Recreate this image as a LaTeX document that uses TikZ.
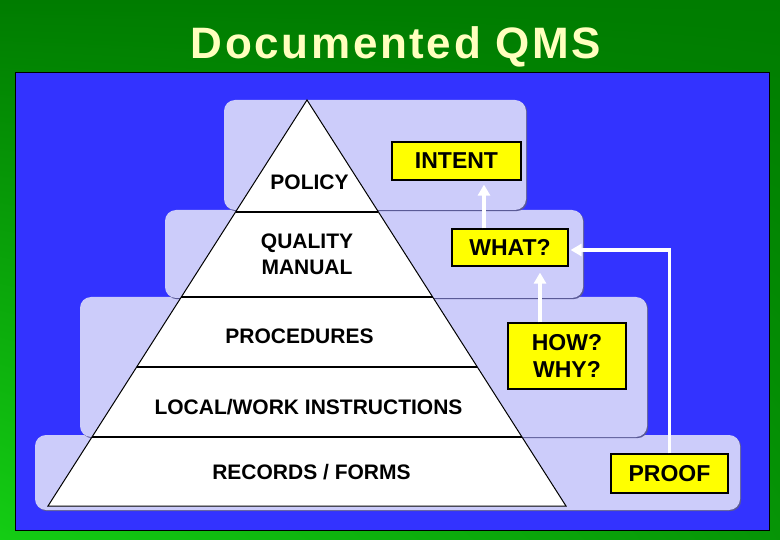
\documentclass[tikz,border=0pt]{standalone}
\usepackage{fontspec}
\setmainfont{Liberation Sans}
\usetikzlibrary{positioning,arrows.meta,calc,shadings}
\definecolor{bgdark}{RGB}{0,124,0}
\definecolor{bgbright}{RGB}{20,205,20}
\definecolor{slide}{RGB}{51,51,255}
\definecolor{tierfill}{RGB}{204,204,250}
\definecolor{tiershade}{RGB}{90,90,150}
\definecolor{tagfill}{RGB}{255,255,0}
\definecolor{titlecol}{RGB}{255,255,190}

\begin{document}
\begin{tikzpicture}[x=1pt,y=-1pt,>=Latex,
  tier/.style={fill=tierfill,rounded corners=11pt},
  tiershadow/.style={fill=tiershade,rounded corners=11pt},
  lbl/.style={font=\fontsize{21}{26}\selectfont\bfseries,align=center},
  tag/.style={draw=black,line width=1.2pt,fill=tagfill,inner sep=0pt,
    font=\fontsize{23}{27}\selectfont\bfseries,align=center},
  flow/.style={white,line width=3.5pt,-{Triangle[length=11pt,width=12pt]},shorten >=4pt}]
% ---- slide background and title ----
\shade[upper left=bgdark,upper right=bgdark,lower left=bgbright,lower right=bgdark!70!bgbright]
  (0,0) rectangle (780,540);
\node[font=\fontsize{44}{50}\selectfont\bfseries\addfontfeature{LetterSpace=6},
  text=titlecol,anchor=base] (title) at (396,59) {Documented QMS};
\draw[fill=slide,line width=0.8pt] (15,72) rectangle (769,530);
% ---- stepped tiers (bottom first) ----
\foreach \xa/\ya/\xb/\yb in {35/435/740/510, 80/297/647/437, 165/210/583/298, 224/100/526/210} {
  \fill[tiershadow] (\xa+1.2,\ya+1.2) rectangle (\xb+1.2,\yb+1.2);
  \fill[tier] (\xa,\ya) rectangle (\xb,\yb);
}
% ---- pyramid ----
\coordinate (apex) at (307,100);
\coordinate (baseL) at (48,506);
\coordinate (baseR) at (566,506);
\draw[fill=white,line width=1pt] (apex) -- (baseL) -- (baseR) -- cycle;
\foreach \t in {0.276,0.485,0.658,0.830}
  \draw[line width=2.2pt] ($(apex)!\t!(baseL)$) -- ($(apex)!\t!(baseR)$);
\node[lbl,anchor=base] (policy) at (309.5,190) {POLICY};
\node[lbl] (manual) at (307,254) {QUALITY\\MANUAL};
\node[lbl,anchor=base] (procedures) at (299.5,344) {PROCEDURES};
\node[lbl,anchor=base] (instructions) at (308.5,414) {LOCAL/WORK INSTRUCTIONS};
\node[lbl,anchor=base] (records) at (311.5,479) {RECORDS / FORMS};
% ---- yellow tags ----
\node[tag,minimum width=129pt,minimum height=38pt] (intent) at (456.5,161) {INTENT};
\node[tag,minimum width=116pt,minimum height=37pt] (what) at (510,247.5) {WHAT?};
\node[tag,minimum width=118pt,minimum height=66pt] (howwhy) at (567,356) {HOW?\\WHY?};
\node[tag,minimum width=117pt,minimum height=39pt] (proof) at (669.5,473.5) {PROOF};
% ---- arrows ----
\draw[flow] ([xshift=-26pt]what.north) -- ([xshift=-26pt]what.north |- intent.south);
\draw[flow,shorten >=6pt] ([xshift=-27pt]howwhy.north) -- ([xshift=-27pt]howwhy.north |- what.south);
\draw[flow,shorten >=2pt] (proof.north) |- ([yshift=-2.5pt]what.east);
\end{tikzpicture}
\end{document}
